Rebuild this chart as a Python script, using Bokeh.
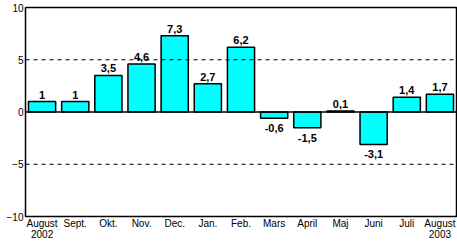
from bokeh.plotting import figure
from bokeh.models import ColumnDataSource, Span, FixedTicker, Range1d
from bokeh.core.properties import value
from bokeh.embed import file_html
from bokeh.resources import INLINE

months = ["August\n2002", "Sept.", "Okt.", "Nov.", "Dec.", "Jan.", "Feb.", "Mars",
          "April", "Maj", "Juni", "Juli", "August\n2003"]
values = [1, 1, 3.5, 4.6, 7.3, 2.7, 6.2, -0.6, -1.5, 0.1, -3.1, 1.4, 1.7]
y_ticks = [-10, -5, 0, 5, 10]

def fmt(v):
    return ("%g" % v).replace(".", ",")

xs = list(range(len(values)))
src = ColumnDataSource(dict(x=xs, top=values))

p = figure(width=457, height=247, output_backend="svg", toolbar_location=None,
           x_range=Range1d(-0.5, len(values) - 0.5), y_range=Range1d(-10, 10),
           min_border_left=25, min_border_right=1, min_border_top=7, min_border_bottom=31)
p.background_fill_color = "white"
p.border_fill_color = "white"
p.outline_line_color = "black"
p.outline_line_width = 1.5

p.vbar(x="x", top="top", bottom=0, width=0.82, source=src,
       fill_color="#00FFFF", line_color="black", line_width=1.5)

for yy in [-5, 5]:
    p.add_layout(Span(location=yy, dimension="width", line_color="black",
                      line_width=1, line_dash="4 4"))
p.add_layout(Span(location=0, dimension="width", line_color="black", line_width=1.5))

pos = [(x, v, fmt(v)) for x, v in zip(xs, values) if v >= 0]
neg = [(x, v, fmt(v)) for x, v in zip(xs, values) if v < 0]
psrc = ColumnDataSource(dict(x=[a[0] for a in pos], y=[a[1] for a in pos], t=[a[2] for a in pos]))
nsrc = ColumnDataSource(dict(x=[a[0] for a in neg], y=[a[1] for a in neg], t=[a[2] for a in neg]))
p.text(x="x", y="y", text="t", source=psrc, text_align="center", text_baseline="bottom",
       y_offset=-3, text_font=value("Liberation Sans"), text_font_style="bold",
       text_font_size="11px", text_color="black")
p.text(x="x", y="y", text="t", source=nsrc, text_align="center", text_baseline="top",
       y_offset=6, text_font=value("Liberation Sans"), text_font_style="bold",
       text_font_size="11px", text_color="black")

p.xgrid.visible = False
p.ygrid.visible = False

p.yaxis.ticker = FixedTicker(ticks=y_ticks)
p.yaxis.major_tick_line_color = None
p.yaxis.minor_tick_line_color = None
p.yaxis.axis_line_color = None
p.yaxis.major_tick_in = 0
p.yaxis.major_tick_out = 0
p.yaxis.major_label_standoff = 2
p.yaxis.major_label_text_font = "Liberation Sans"
p.yaxis.major_label_text_font_size = "10px"
p.yaxis.major_label_text_color = "black"

p.xaxis.ticker = FixedTicker(ticks=xs)
p.xaxis.major_label_overrides = {i: m for i, m in enumerate(months)}
p.xaxis.major_tick_line_color = None
p.xaxis.minor_tick_line_color = None
p.xaxis.axis_line_color = None
p.xaxis.major_tick_in = 0
p.xaxis.major_tick_out = 0
p.xaxis.major_label_standoff = 1
p.xaxis.major_label_text_font = "Liberation Sans"
p.xaxis.major_label_text_font_size = "10px"
p.xaxis.major_label_text_line_height = 1.0
p.xaxis.major_label_text_color = "black"

open("out.html", "w").write(file_html(p, INLINE))
